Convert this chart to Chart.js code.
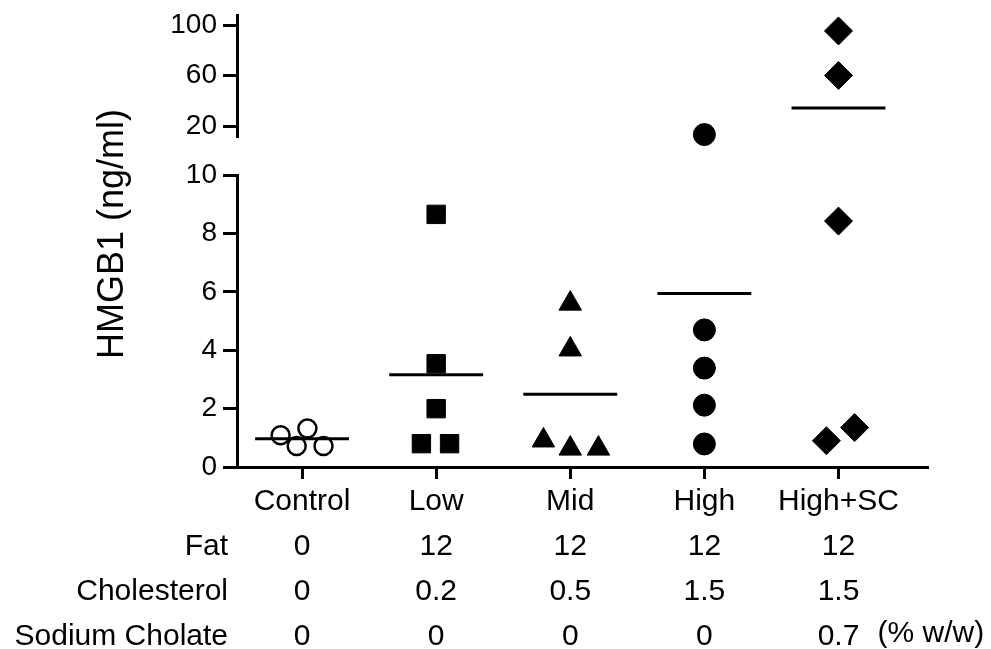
<!DOCTYPE html>
<html>
<head>
<meta charset="utf-8">
<script src="https://cdn.jsdelivr.net/npm/chart.js@4.4.0/dist/chart.umd.min.js"></script>
<style>
  html, body { margin: 0; padding: 0; background: #fff; }
</style>
</head>
<body>
<canvas id="myChart" width="991" height="649"></canvas>
<script>
groups = ['Control', 'Low', 'Mid', 'High', 'High+SC'];
fat = ['0', '12', '12', '12', '12'];
cholesterol = ['0', '0.2', '0.5', '1.5', '1.5'];
sodiumCholate = ['0', '0', '0', '0', '0.7'];
rowNames = ['Fat', 'Cholesterol', 'Sodium Cholate'];

// HMGB1 (ng/ml) per animal; the Dx arrays are the sideways jitter inside a group
controlY = [1.09, 1.32, 0.72, 0.72];
controlDx = [-0.16, 0.04, -0.04, 0.16];
lowY = [8.66, 3.54, 2.0, 0.8, 0.8];
lowDx = [0, 0, 0, -0.11, 0.1];
midY = [5.6, 4.03, 0.91, 0.63, 0.63];
midDx = [0, 0, -0.2, 0, 0.21];
highY = [13.5, 4.7, 3.39, 2.12, 0.79];
highDx = [0, 0, 0, 0, 0];
hscY = [95.4, 60.2, 8.43, 0.9, 1.35];
hscDx = [0, 0, 0, -0.09, 0.12];
means = [0.97, 3.16, 2.49, 5.95, 34.4];

lowTicks = [0, 2, 4, 6, 8, 10];
highTicks = [20, 40, 60, 80, 100];
highTickLabels = ['20', '', '60', '', '100'];

const FONT = '"Liberation Sans", Arial, sans-serif';
const LINE_H = 45;
const TICK_LEN = 12;

function groupSets(i, ys, dx, style) {
  const lo = [], hi = [];
  ys.forEach((v, k) => (v > 10 ? hi : lo).push({x: i + 1 + dx[k], y: v}));
  const sets = [];
  if (lo.length) sets.push(Object.assign({data: lo, yAxisID: 'yLow', clip: false}, style));
  if (hi.length) sets.push(Object.assign({data: hi, yAxisID: 'yHigh', clip: false}, style));
  return sets;
}

const filled = {pointBackgroundColor: '#000', pointBorderColor: '#000', pointBorderWidth: 1};

let datasets = [];
datasets = datasets.concat(groupSets(0, controlY, controlDx,
  {pointStyle: 'circle', pointRadius: 9, pointBorderWidth: 2.5, pointBackgroundColor: 'rgba(0,0,0,0)', pointBorderColor: '#000'}));
datasets = datasets.concat(groupSets(1, lowY, lowDx, Object.assign({pointStyle: 'rect', pointRadius: 13}, filled)));
datasets = datasets.concat(groupSets(2, midY, midDx, Object.assign({pointStyle: 'triangle', pointRadius: 13}, filled)));
datasets = datasets.concat(groupSets(3, highY, highDx, Object.assign({pointStyle: 'circle', pointRadius: 11}, filled)));
datasets = datasets.concat(groupSets(4, hscY, hscDx, Object.assign({pointStyle: 'rectRot', pointRadius: 14}, filled)));

// mean bars
means.forEach((m, i) => {
  datasets.push({
    data: [{x: i + 1 - 0.35, y: m}, {x: i + 1 + 0.35, y: m}],
    yAxisID: m > 10 ? 'yHigh' : 'yLow',
    showLine: true,
    clip: false,
    borderColor: '#000',
    borderWidth: 3,
    pointRadius: 0
  });
});

const tableText = {
  id: 'tableText',
  afterDraw(chart) {
    const {ctx, chartArea, scales} = chart;
    const xs = scales.x;
    ctx.save();
    ctx.fillStyle = '#000';
    ctx.font = '30px ' + FONT;
    ctx.textBaseline = 'middle';
    ctx.textAlign = 'right';
    const first = xs.top + TICK_LEN + LINE_H / 2;
    rowNames.forEach((t, i) => ctx.fillText(t, chartArea.left - 9, first + LINE_H * (i + 1)));
    ctx.textAlign = 'left';
    ctx.fillText('(% w/w)', xs.getPixelForValue(5) + 39, first + LINE_H * 3 - 3);
    // y axis title
    ctx.font = '36px ' + FONT;
    ctx.translate(chartArea.left - 114, chartArea.top + 219);
    ctx.rotate(-Math.PI / 2);
    ctx.textAlign = 'center';
    ctx.textBaseline = 'alphabetic';
    ctx.fillText('HMGB1 (ng/ml)', 0, 0);
    ctx.restore();
  }
};

function fitY(s) {
  s.width = 100;
  s.paddingTop = 0;
  s.paddingBottom = 0;
}

const yCommon = {
  type: 'linear',
  position: 'left',
  stack: 'y',
  afterFit: fitY,
  grid: {drawOnChartArea: false, drawTicks: true, tickLength: 14, lineWidth: 3, color: '#000'},
  border: {display: true, width: 3, color: '#000'},
  ticks: {color: '#000', padding: 6, font: {family: FONT, size: 28}}
};

new Chart(document.getElementById('myChart'), {
  type: 'scatter',
  data: {datasets: datasets},
  plugins: [tableText],
  options: {
    responsive: false,
    animation: false,
    devicePixelRatio: 1,
    layout: {padding: {top: 13, left: 137, right: 64, bottom: 0}},
    plugins: {legend: {display: false}, tooltip: {enabled: false}},
    scales: {
      x: {
        type: 'linear',
        min: 0.515,
        max: 5.66,
        afterFit: s => { s.height = 182; },
        afterBuildTicks: s => { s.ticks = groups.map((g, i) => ({value: i + 1})); },
        grid: {drawOnChartArea: false, drawTicks: true, tickLength: TICK_LEN, lineWidth: 3, color: '#000'},
        border: {display: true, width: 3, color: '#000'},
        ticks: {
          color: '#000',
          padding: 0,
          maxRotation: 0,
          font: {family: FONT, size: 30, lineHeight: LINE_H / 30},
          callback: (v, i) => [groups[i], fat[i], cholesterol[i], sodiumCholate[i]]
        }
      },
      yLow: Object.assign({}, yCommon, {
        min: 0, max: 10, stackWeight: 293, weight: 1,
        afterBuildTicks: s => { s.ticks = lowTicks.map(v => ({value: v})); }
      }),
      yGap: {
        type: 'linear', position: 'left', stack: 'y', stackWeight: 39, weight: 2,
        min: 0, max: 1,
        afterFit: fitY,
        grid: {display: false},
        border: {display: false},
        ticks: {display: false}
      },
      yHigh: Object.assign({}, yCommon, {
        min: 12, max: 108, stackWeight: 122, weight: 3,
        afterBuildTicks: s => { s.ticks = highTicks.map(v => ({value: v})); },
        ticks: Object.assign({}, yCommon.ticks, {callback: (v, i) => highTickLabels[i]})
      })
    }
  }
});
</script>
</body>
</html>
